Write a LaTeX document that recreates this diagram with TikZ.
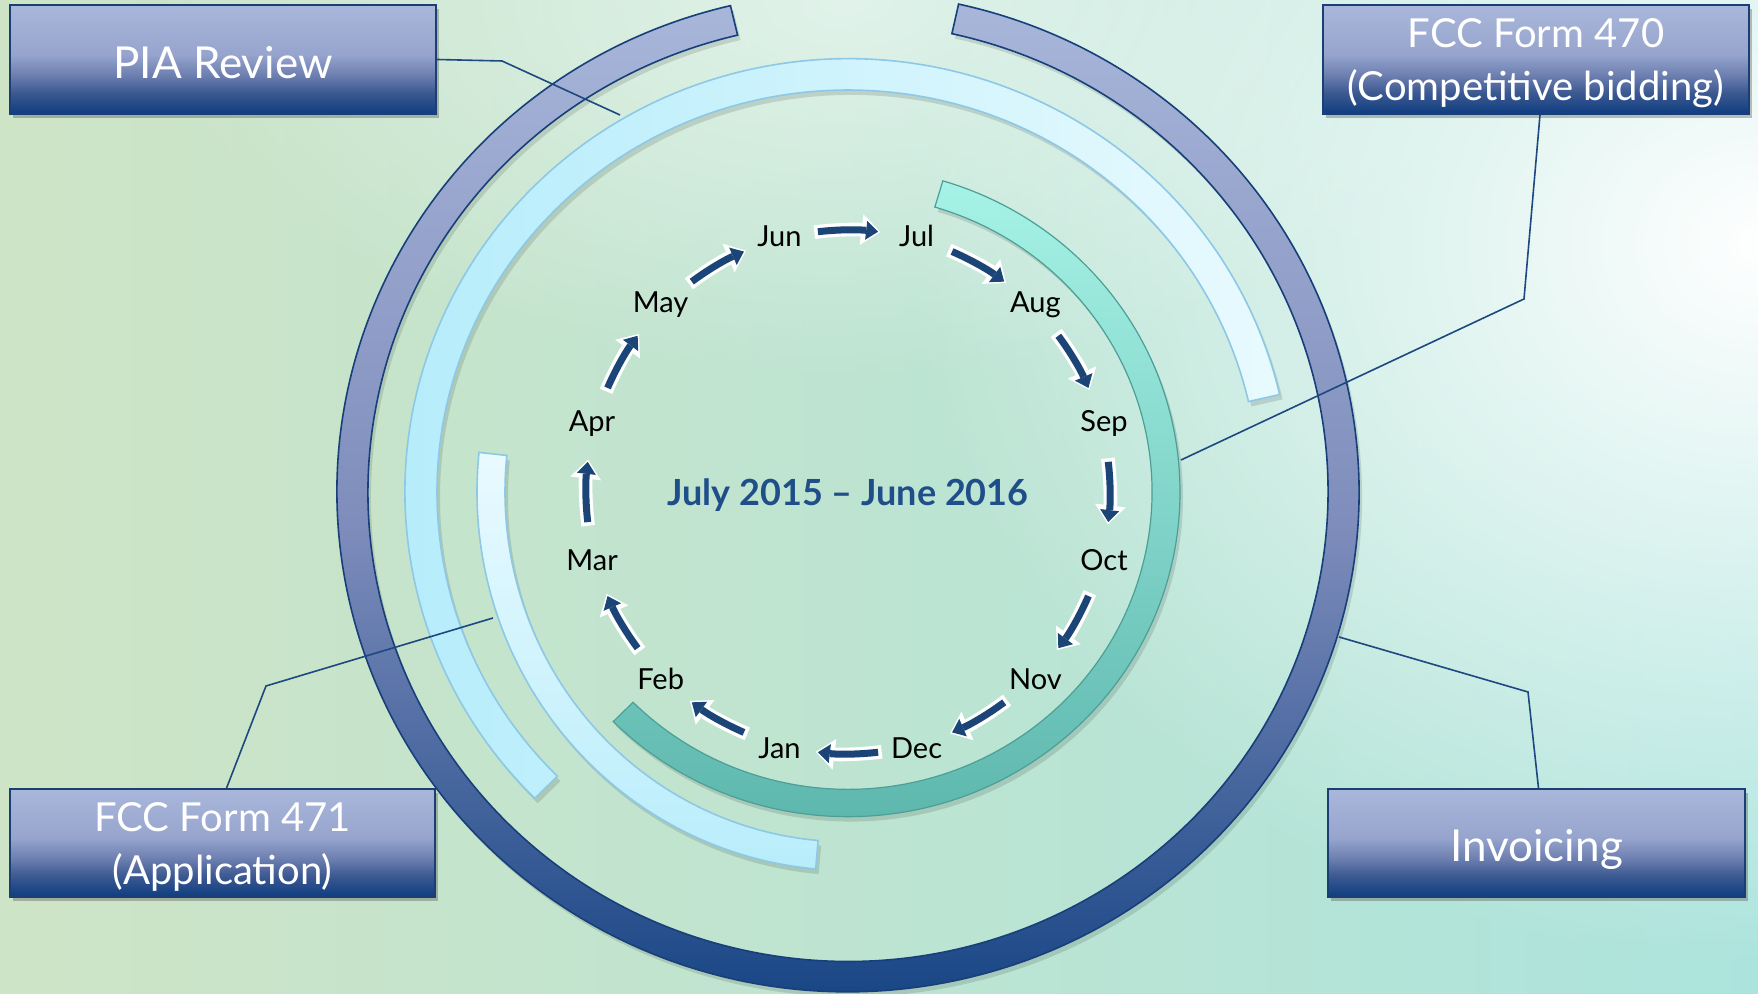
\documentclass[tikz,border=0pt]{standalone}
\usepackage{fontspec}
\setmainfont{Lato}
\usetikzlibrary{arrows.meta,shadows,fadings}
\definecolor{bgL}{HTML}{CEE4C6}
\definecolor{bgR}{HTML}{ACE4DD}
\definecolor{boxA}{HTML}{A9B7DB}
\definecolor{boxA2}{HTML}{97A5CE}
\definecolor{boxB}{HTML}{6B7EAF}
\definecolor{boxB2}{HTML}{3D5A92}
\definecolor{boxC}{HTML}{0E3D80}
\definecolor{boxEdge}{HTML}{1B3F75}
\definecolor{outA}{HTML}{A8B6DA}
\definecolor{outB}{HTML}{7F8DBC}
\definecolor{outC}{HTML}{0F3F80}
\definecolor{outEdge}{HTML}{173F7A}
\definecolor{piaL}{HTML}{B4ECFB}
\definecolor{piaR}{HTML}{E8FAFE}
\definecolor{lbEdge}{HTML}{8DC8E6}
\definecolor{fT}{HTML}{E9FAFF}
\definecolor{fB}{HTML}{B9EDFB}
\definecolor{tealT}{HTML}{A6F2E6}
\definecolor{tealB}{HTML}{5BB5AB}
\definecolor{tealEdge}{HTML}{4C9F96}
\definecolor{conn}{HTML}{1E4880}
\definecolor{arrBlue}{HTML}{1C4577}
\definecolor{titleBlue}{HTML}{1F4E89}
\pgfdeclareverticalshading{boxshade}{100bp}{color(0bp)=(boxC); color(25bp)=(boxC); color(35bp)=(boxB2); color(42.5bp)=(boxB); color(52.5bp)=(boxA2); color(75bp)=(boxA); color(100bp)=(boxA)}
\tikzfading[name=softglow, inner color=transparent!0, outer color=transparent!100]
\tikzset{
  boxnode/.style={shading=boxshade, draw=boxEdge, line width=0.8pt, inner sep=0pt,
    drop shadow={shadow xshift=1.5pt, shadow yshift=-2pt, opacity=0.35, fill=black!70}},
  boxtext/.style={text=white, align=center, inner sep=0pt, font=\fontsize{20}{26.5}\selectfont},
  boxtextbig/.style={text=white, align=center, inner sep=0pt, font=\fontsize{22}{26}\selectfont},
  monthlbl/.style={font=\fontsize{14.5}{16}\selectfont, text=black, inner sep=1pt},
  conline/.style={draw=conn, line width=0.8pt},
  arrW/.style={draw=white, line width=6.8pt, -{Triangle[length=9.5pt,width=15.5pt,line width=0pt]}},
  arrB/.style={draw=arrBlue, line width=3.5pt, -{Triangle[length=6pt,width=9.5pt,line width=0pt]}},
  ringshadow/.style={fill=black, opacity=0.12},
}
\begin{document}
\begin{tikzpicture}[x=0.5pt, y=0.5pt]
\useasboundingbox (0,0) rectangle (1758,994);
% background
\shade[left color=bgL, right color=bgR] (0,0) rectangle (1758,994);
\fill[white, path fading=softglow] (1760,750) ellipse [x radius=850, y radius=720];
\fill[white, opacity=0.55, path fading=softglow] (850,994) ellipse [x radius=700, y radius=380];
\coordinate (C) at (848,502);
% rings
\begin{scope}[shift={(848,502)}, yscale=0.978]
  % outer ring (Invoicing)
  \fill[ringshadow, shift={(3,-5)}] (103.3:511) arc[start angle=103.3, end angle=437.5, radius=511] -- (437.5:480) arc[start angle=437.5, end angle=103.3, radius=480] -- cycle;
  \path[top color=outA, bottom color=outC, middle color=outB, draw=outEdge, line width=0.8pt]
    (103.3:511) arc[start angle=103.3, end angle=437.5, radius=511] -- (437.5:480) arc[start angle=437.5, end angle=103.3, radius=480] -- cycle;
  % PIA ring
  \fill[ringshadow, shift={(3,-5)}] (13:443) arc[start angle=13, end angle=225, radius=443] -- (225:411) arc[start angle=225, end angle=13, radius=411] -- cycle;
  \path[left color=piaL, right color=piaR, draw=lbEdge, line width=0.8pt]
    (13:443) arc[start angle=13, end angle=225, radius=443] -- (225:411) arc[start angle=225, end angle=13, radius=411] -- cycle;
  % teal ring (Form 470)
  \fill[ringshadow, shift={(3,-5)}] (-135:332) arc[start angle=-135, end angle=73.4, radius=332] -- (73.4:304) arc[start angle=73.4, end angle=-135, radius=304] -- cycle;
  \path[top color=tealT, bottom color=tealB, draw=tealEdge, line width=0.6pt]
    (-135:332) arc[start angle=-135, end angle=73.4, radius=332] -- (73.4:304) arc[start angle=73.4, end angle=-135, radius=304] -- cycle;
\end{scope}
\begin{scope}[shift={(848,502)}, yscale=1.02]
  % Form 471 ring
  \fill[ringshadow, shift={(3,-5)}] (174:371) arc[start angle=174, end angle=265, radius=371] -- (265:343) arc[start angle=265, end angle=174, radius=343] -- cycle;
  \path[top color=fT, bottom color=fB, draw=lbEdge, line width=0.8pt]
    (174:371) arc[start angle=174, end angle=265, radius=371] -- (265:343) arc[start angle=265, end angle=174, radius=343] -- cycle;
\end{scope}
% month arrows
\foreach \a in {90,60,30,0,-30,-60,-90,-120,-150,-180,-210,-240} {
  \pgfmathsetmacro{\sa}{\a+6.6}
  \pgfmathsetmacro{\sw}{\a+7.4}
  \pgfmathsetmacro{\ea}{\a-6.6}
  \pgfmathsetmacro{\ew}{\a-7.1}
  \draw[arrW] ([shift={(\sw:262)}]C) arc[start angle=\sw, end angle=\ew, radius=262];
  \draw[arrB] ([shift={(\sa:262)}]C) arc[start angle=\sa, end angle=\ea, radius=262];
}
% month labels
\foreach \n/\a in {Jul/75, Aug/45, Sep/15, Oct/-15, Nov/-45, Dec/-75, Jan/-105, Feb/-135, Mar/-165, Apr/165, May/135, Jun/105} {
  \node[monthlbl] (m\n) at ([shift={(\a:265)}]C) {\n};
}
\node[font=\bfseries\fontsize{18}{20}\selectfont, text=titleBlue] (title) at ([yshift=-1.6pt]C) {July 2015 – June 2016};
% boxes
\node[boxnode, minimum width=213pt, minimum height=54.5pt] (pia) at (223,934.5) {};
\node[boxnode, minimum width=213pt, minimum height=54.5pt] (f470) at (1536,934.5) {};
\node[boxnode, minimum width=212.5pt, minimum height=54pt] (f471) at (222.5,151) {};
\node[boxnode, minimum width=208.5pt, minimum height=54pt] (inv) at (1536.5,151) {};
\node[boxtextbig] (piaT) at ([yshift=-1.5pt]pia.center) {PIA Review};
\node[boxtext] (f470T) at ([yshift=-1.6pt]f470.center) {FCC Form 470\\(Competitive bidding)};
\node[boxtext] (f471T) at ([yshift=-2.2pt]f471.center) {FCC Form 471\\(Application)};
\node[boxtextbig] (invT) at ([yshift=-3pt]inv.center) {Invoicing};
% connector endpoints on rings
\coordinate (piaend) at (620,879);
\coordinate (f470end) at (1181,534);
\coordinate (f471end) at (493,376);
\coordinate (invend) at (1339,357);
\draw[conline] (pia.east) -- (502,933) -- (piaend);
\draw[conline] ([xshift=2pt]f470.south) -- (1524,695) -- (f470end);
\draw[conline] ([xshift=2pt]f471.north) -- (266,308) -- (f471end);
\draw[conline] (invend) -- (1528,302) -- ([xshift=1pt]inv.north);
\end{tikzpicture}
\end{document}
